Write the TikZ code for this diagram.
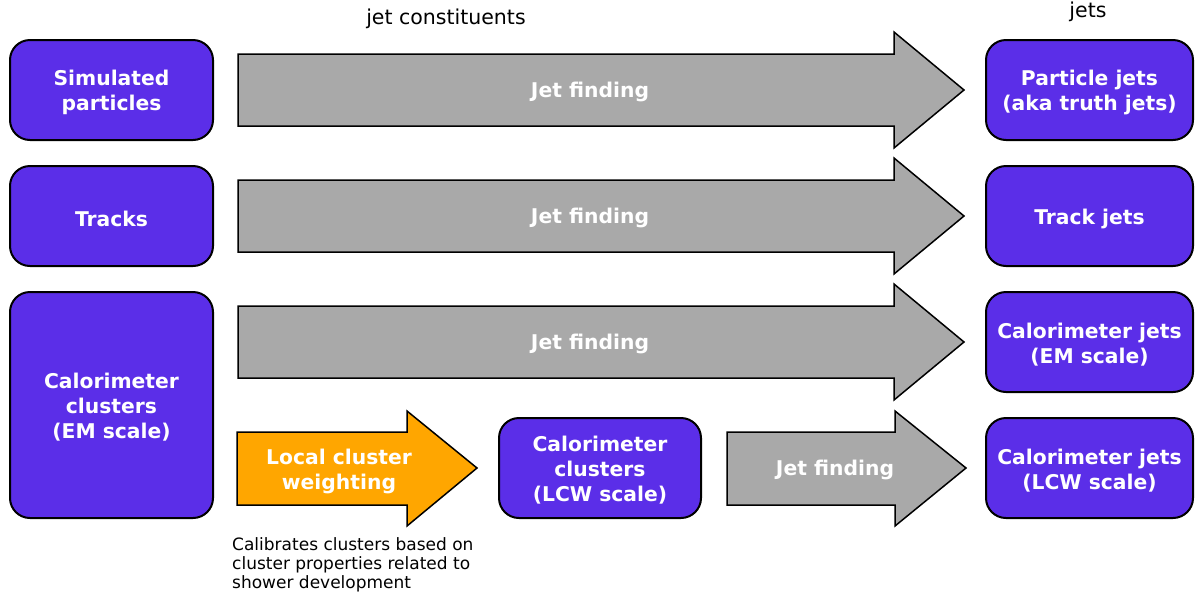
\documentclass[tikz,border=0pt]{standalone}
\usepackage{fontspec}
\setmainfont{DejaVu Sans}
\definecolor{boxpurple}{RGB}{91,46,232}
\definecolor{arrowgray}{RGB}{169,169,169}
\definecolor{arroworange}{RGB}{255,166,0}
\tikzset{
  boxtext/.style={align=center, text=white, yshift=-2.5pt,
    font=\bfseries\fontsize{20.3}{25}\selectfont},
  pbox/.style={draw=black, line width=2pt, fill=boxpurple, rounded corners=20pt,
    minimum width=203pt, inner sep=0pt},
  blockarrow/.style={draw=black, line width=1.5pt, line join=miter},
  arrowtext/.style={align=center, text=white, font=\bfseries\fontsize{20.3}{25}\selectfont},
  plain/.style={font=\fontsize{20.5}{24}\selectfont, text=black},
  note/.style={font=\fontsize{17}{19}\selectfont, text=black, align=left, anchor=north west, inner sep=0pt}
}
\begin{document}
\begin{tikzpicture}[x=1pt,y=-1pt]
\useasboundingbox (0,0) rectangle (1195,598);
% left boxes
\node[pbox, minimum height=100pt, label={[boxtext]center:{Simulated\\particles}}] (sim) at (111.5,90) {};
\node[pbox, minimum height=100pt, label={[boxtext]center:{Tracks}}] (trk) at (111.5,216) {};
\node[pbox, minimum height=226pt, label={[boxtext]center:{Calorimeter\\clusters\\(EM scale)}}] (calo) at (111.5,405) {};
% right boxes
\node[pbox, minimum width=207pt, minimum height=100pt, label={[boxtext]center:{Particle jets\\(aka truth jets)}}] (pjet) at (1089.5,90) {};
\node[pbox, minimum width=207pt, minimum height=100pt, label={[boxtext]center:{Track jets}}] (tjet) at (1089.5,216) {};
\node[pbox, minimum width=207pt, minimum height=100pt, label={[boxtext]center:{Calorimeter jets\\(EM scale)}}] (cjem) at (1089.5,342) {};
\node[pbox, minimum width=207pt, minimum height=100pt, label={[boxtext]center:{Calorimeter jets\\(LCW scale)}}] (cjlcw) at (1089.5,468) {};
% middle box
\node[pbox, minimum width=202pt, minimum height=100pt, label={[boxtext]center:{Calorimeter\\clusters\\(LCW scale)}}] (lcw) at (600,468) {};
% big gray arrows
\foreach \yc/\nm in {90/a1,216/a2,342/a3}{
  \draw[blockarrow, fill=arrowgray] (238,\yc-36) -- (894,\yc-36) -- (894,\yc-58) -- (964,\yc) -- (894,\yc+58) -- (894,\yc+36) -- (238,\yc+36) -- cycle;
  \node[arrowtext] (\nm) at (590,\yc+2) {Jet finding};
}
% orange arrow
\draw[blockarrow, fill=arroworange] (237,432) -- (407,432) -- (407,411) -- (477,468) -- (407,526) -- (407,505) -- (237,505) -- cycle;
\node[arrowtext] (lcwt) at (339,471) {Local cluster\\weighting};
% small gray arrow
\draw[blockarrow, fill=arrowgray] (727,432) -- (895,432) -- (895,411) -- (966,468) -- (895,526) -- (895,505) -- (727,505) -- cycle;
\node[arrowtext] (a4) at (835,470) {Jet finding};
% labels
\node[plain] (hc) at (446,19) {jet constituents};
\node[plain] (hj) at (1088,12) {jets};
\node[note] (cap) at (232,537) {Calibrates clusters based on\\cluster properties related to\\shower development};
\end{tikzpicture}
\end{document}
